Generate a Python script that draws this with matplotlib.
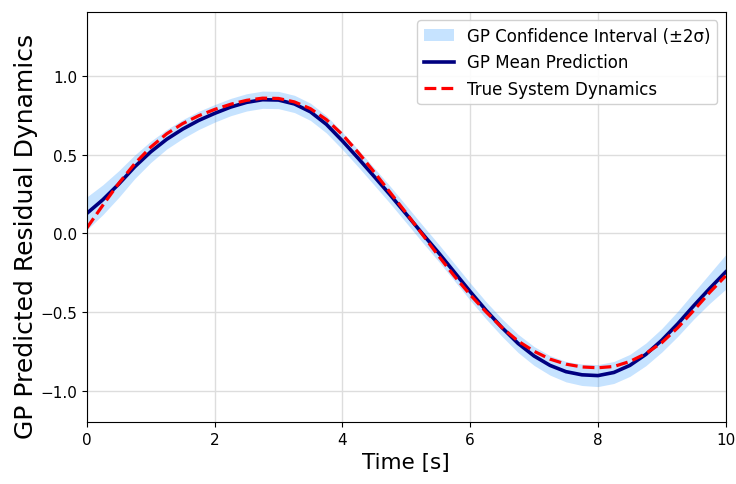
import numpy as np
import matplotlib
matplotlib.use("Agg")
import matplotlib.pyplot as plt

# Tiempo (s), paso de 0.25
tiempo = [0.0, 0.25, 0.5, 0.75, 1.0, 1.25, 1.5, 1.75, 2.0, 2.25,
          2.5, 2.75, 3.0, 3.25, 3.5, 3.75, 4.0, 4.25, 4.5, 4.75,
          5.0, 5.25, 5.5, 5.75, 6.0, 6.25, 6.5, 6.75, 7.0, 7.25,
          7.5, 7.75, 8.0, 8.25, 8.5, 8.75, 9.0, 9.25, 9.5, 9.75, 10.0]

dinamica_real = [0.035, 0.18, 0.32, 0.445, 0.55, 0.635, 0.70, 0.75, 0.79, 0.823,
                 0.848, 0.862, 0.86, 0.838, 0.795, 0.725, 0.63, 0.515, 0.39, 0.26,
                 0.13, -0.005, -0.14, -0.27, -0.39, -0.50, -0.60, -0.685, -0.75, -0.80,
                 -0.832, -0.85, -0.855, -0.847, -0.815, -0.765, -0.695, -0.60, -0.49, -0.375, -0.27]

# Media del GP
media_gp = [0.128, 0.215, 0.315, 0.425, 0.52, 0.60, 0.665, 0.72, 0.765, 0.805,
            0.835, 0.852, 0.85, 0.825, 0.775, 0.695, 0.59, 0.478, 0.362, 0.245,
            0.123, 0.0, -0.12, -0.245, -0.37, -0.49, -0.60, -0.70, -0.78, -0.84,
            -0.88, -0.90, -0.905, -0.885, -0.84, -0.77, -0.68, -0.575, -0.46, -0.35, -0.245]

# Semiancho del intervalo (2 sigma)
dos_sigma = [0.105, 0.095, 0.085, 0.075, 0.068, 0.062, 0.06, 0.058, 0.056, 0.055,
             0.055, 0.055, 0.055, 0.055, 0.055, 0.055, 0.055, 0.055, 0.055, 0.055,
             0.055, 0.055, 0.055, 0.055, 0.055, 0.055, 0.056, 0.058, 0.06, 0.062,
             0.065, 0.068, 0.07, 0.07, 0.07, 0.072, 0.075, 0.08, 0.085, 0.095, 0.11]

t = np.array(tiempo)
mu = np.array(media_gp)
sd2 = np.array(dos_sigma)

fig = plt.figure(figsize=(7.36, 4.85), dpi=100)
ax = fig.add_axes([0.118, 0.128, 0.868, 0.845])

ax.fill_between(t, mu - sd2, mu + sd2, color="#1e90ff", alpha=0.25, linewidth=0,
                label="GP Confidence Interval (±2σ)")
ax.plot(t, mu, color="navy", linewidth=2.6, label="GP Mean Prediction")
ax.plot(t, dinamica_real, "--", color="red", linewidth=2.3, label="True System Dynamics")

ax.set_xlim(0, 10)
ax.set_ylim(-1.2, 1.41)
ax.set_yticks([-1.0, -0.5, 0.0, 0.5, 1.0])
ax.set_xticks([0, 2, 4, 6, 8, 10])
ax.tick_params(labelsize=11)
ax.grid(True, color="#dddddd", linewidth=1)
ax.set_axisbelow(True)

ax.set_xlabel("Time [s]", fontsize=15.5)
ax.set_ylabel("GP Predicted Residual Dynamics", fontsize=18)
ax.yaxis.set_label_coords(-0.077, 0.455)

leg = ax.legend(loc="upper right", fontsize=12, framealpha=0.9, handlelength=1.8)

plt.savefig("out.png", dpi=100)
